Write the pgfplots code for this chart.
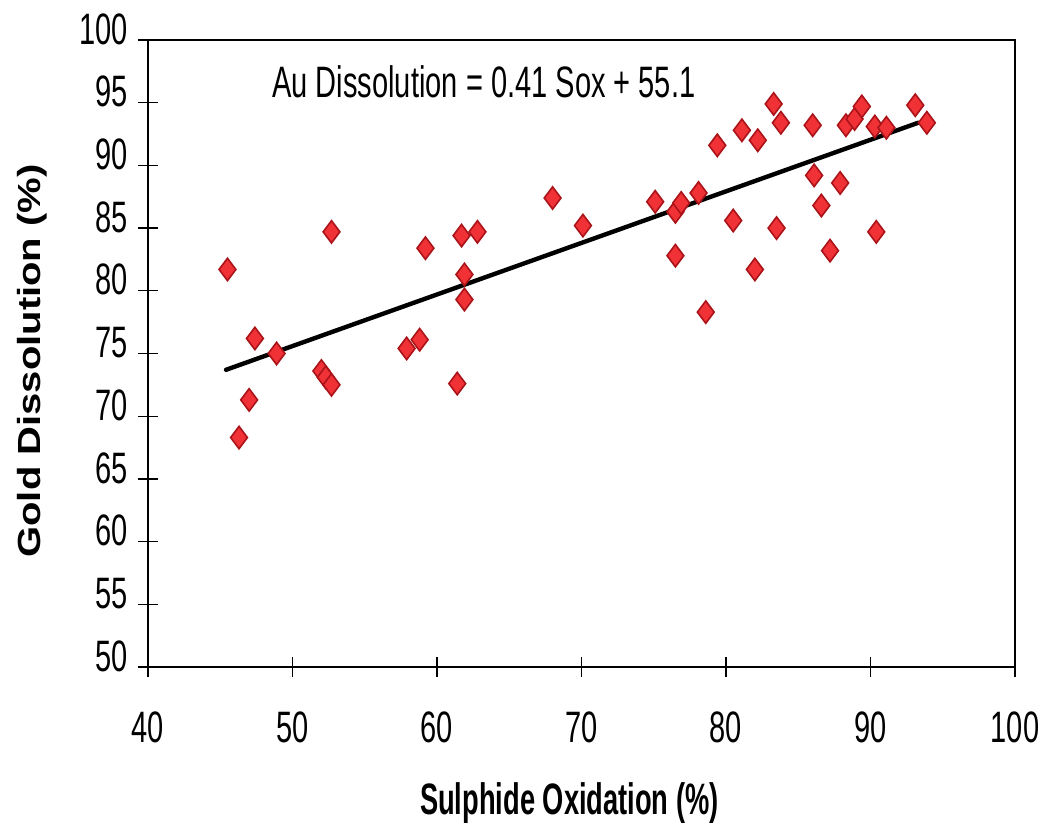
\documentclass[border=0pt]{standalone}
\usepackage{pgfplots}
\pgfplotsset{compat=1.18}
\usepackage{fontspec}
\setmainfont{Liberation Sans}[FakeStretch=0.66]
\newfontfamily\xlabfont{Liberation Sans}[FakeStretch=0.62]
\newfontfamily\ylabfont{Liberation Sans}
\definecolor{mkfill}{RGB}{240,50,55}
\definecolor{mkdraw}{RGB}{170,20,25}
\begin{document}
\begin{tikzpicture}
\begin{axis}[
  scale only axis,
  width=433.5pt, height=313.5pt,
  xmin=40, xmax=100, ymin=50, ymax=100,
  xtick={40,50,...,100}, ytick={50,55,...,100},
  axis line style={line width=1.4pt},
  tick align=center,
  major tick length=10pt,
  xtick pos=bottom, ytick pos=left,
  tick style={black, line width=0.6pt},
  /pgf/number format/assume math mode=true,
  ticklabel style={font=\fontsize{22}{24}\selectfont, inner sep=0pt},
  xticklabel style={anchor=north, yshift=-17pt},
  yticklabel style={anchor=east, xshift=-5pt, yshift=5.5pt},
  xlabel={\xlabfont\bfseries Sulphide Oxidation (\%)},
  ylabel={\ylabfont\bfseries Gold Dissolution (\%)},
  xlabel style={font=\fontsize{22}{24}\selectfont, inner sep=0pt, anchor=base,
    at={(axis description cs:0.486,-0.236)}},
  ylabel style={font=\fontsize{20}{22}\selectfont, inner sep=0pt, anchor=center,
    at={(axis description cs:-0.134,0.488)}, yscale=0.8},
  clip=false,
]
\addplot[only marks, mark=diamond*, mark size=5.6pt,
  mark options={fill=mkfill, draw=mkdraw, line width=0.8pt}] coordinates {
(45.5,81.7) (46.3,68.3) (47.0,71.3) (47.4,76.2) (48.9,75.0)
(52.0,73.6) (52.3,73.1) (52.7,72.5) (52.7,84.7) (57.9,75.4)
(58.8,76.1) (59.2,83.4) (61.4,72.6) (61.7,84.4) (61.9,81.3)
(61.9,79.3) (62.8,84.7) (68.0,87.4) (70.1,85.2) (75.1,87.1)
(76.5,86.3) (76.9,87.0) (76.5,82.8) (78.1,87.8) (78.6,78.3)
(79.4,91.6) (80.5,85.6) (81.1,92.8) (82.0,81.7) (82.2,92.0)
(83.3,94.9) (83.5,85.0) (83.8,93.4) (86.0,93.2) (86.1,89.2)
(86.6,86.8) (87.2,83.2) (87.9,88.6) (88.3,93.2) (88.9,93.7)
(89.4,94.7) (90.3,93.1) (90.4,84.7) (91.1,93.0) (93.1,94.8)
(93.9,93.4)
};
\addplot[black, line width=2.2pt, line cap=round] coordinates {(45.4,73.7) (93.3,93.4)};
\node[anchor=base west, inner sep=0pt, font=\fontsize{22}{24}\selectfont] at (rel axis cs:0.143,0.909) {Au Dissolution = 0.41 Sox + 55.1};
\coordinate (bbl) at (rel axis cs:-0.1707,-0.2488);
\coordinate (btr) at (rel axis cs:1.045,1.0638);
\end{axis}
\pgfresetboundingbox
\path[use as bounding box] (bbl) rectangle (btr);
\end{tikzpicture}
\end{document}
